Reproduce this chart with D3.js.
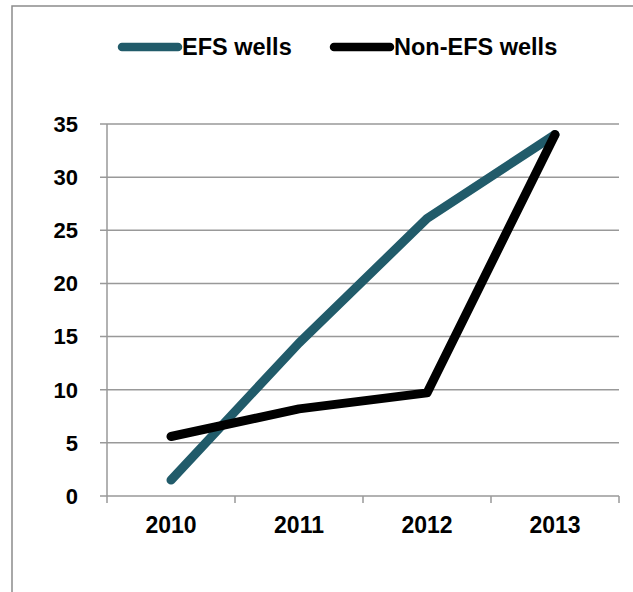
<!DOCTYPE html>
<html>
<head>
<meta charset="utf-8">
<script src="https://cdn.jsdelivr.net/npm/d3@7"></script>
<style>
  body { margin: 0; background: #fff; overflow: hidden; }
  svg { display: block; }
  text { font-family: "Liberation Sans", Arial, sans-serif; font-weight: bold; fill: #000; }
</style>
</head>
<body>
<script>
const years = ["2010", "2011", "2012", "2013"];
const efsWells = [1.5, 14.4, 26.1, 34];
const nonEfsWells = [5.6, 8.2, 9.7, 34];
const yTicks = [0, 5, 10, 15, 20, 25, 30, 35];
const seriesNames = ["EFS wells", "Non-EFS wells"];
const seriesColors = ["#215B6A", "#000000"];

const WIDTH = 633, HEIGHT = 592;
const margin = { top: 124, right: 14, bottom: 96, left: 107 };

const svg = d3.select("body").append("svg")
  .attr("width", WIDTH)
  .attr("height", HEIGHT);

// outer frame: only top and left edges are in view
svg.append("path")
  .attr("d", "M12," + HEIGHT + "V6H" + WIDTH)
  .attr("fill", "none")
  .attr("stroke", "#8c8c8c")
  .attr("stroke-width", 1.5);

const x = d3.scaleBand()
  .domain(years)
  .range([margin.left, WIDTH - margin.right]);

const y = d3.scaleLinear()
  .domain([0, 35])
  .range([HEIGHT - margin.bottom, margin.top]);

// gridlines
svg.append("g")
  .selectAll("line")
  .data(yTicks)
  .enter()
  .append("line")
  .attr("x1", margin.left - 7)
  .attr("x2", WIDTH - margin.right)
  .attr("y1", d => y(d))
  .attr("y2", d => y(d))
  .attr("stroke", "#999")
  .attr("stroke-width", 1.5);

// y axis line
svg.append("line")
  .attr("x1", margin.left).attr("x2", margin.left)
  .attr("y1", y(35)).attr("y2", y(0) + 7)
  .attr("stroke", "#999")
  .attr("stroke-width", 1.5);

// y labels
svg.append("g")
  .selectAll("text")
  .data(yTicks)
  .enter()
  .append("text")
  .attr("x", margin.left - 29)
  .attr("y", d => y(d))
  .attr("dy", "0.36em")
  .attr("text-anchor", "end")
  .style("font-size", "22px")
  .text(d => d);

// x ticks between categories
const xTickPos = years.map(d => x(d) + x.bandwidth()).slice(0, -1).concat([x.range()[1]]);
svg.append("g")
  .selectAll("line")
  .data(xTickPos)
  .enter()
  .append("line")
  .attr("x1", d => d).attr("x2", d => d)
  .attr("y1", y(0)).attr("y2", y(0) + 7)
  .attr("stroke", "#999")
  .attr("stroke-width", 1.5);

// x labels
svg.append("g")
  .selectAll("text")
  .data(years)
  .enter()
  .append("text")
  .attr("x", d => x(d) + x.bandwidth() / 2)
  .attr("y", y(0) + 37)
  .attr("text-anchor", "middle")
  .style("font-size", "23px")
  .text(d => d);

// lines
const line = d3.line()
  .x((d, i) => x(years[i]) + x.bandwidth() / 2)
  .y(d => y(d));

[efsWells, nonEfsWells].forEach(function(series, i) {
  svg.append("path")
    .datum(series)
    .attr("d", line)
    .attr("fill", "none")
    .attr("stroke", seriesColors[i])
    .attr("stroke-width", 9)
    .attr("stroke-linecap", "round")
    .attr("stroke-linejoin", "round");
});

// legend
const legendX = [122, 334];
const legend = svg.append("g")
  .selectAll("g")
  .data(seriesNames)
  .enter()
  .append("g")
  .attr("transform", (d, i) => "translate(" + legendX[i] + ",47)");

legend.append("line")
  .attr("x1", 0).attr("x2", 56)
  .attr("y1", 0).attr("y2", 0)
  .attr("stroke", (d, i) => seriesColors[i])
  .attr("stroke-width", 8.5)
  .attr("stroke-linecap", "round");

legend.append("text")
  .attr("x", 60)
  .attr("y", 7.5)
  .style("font-size", "23.5px")
  .text(d => d);
</script>
</body>
</html>
